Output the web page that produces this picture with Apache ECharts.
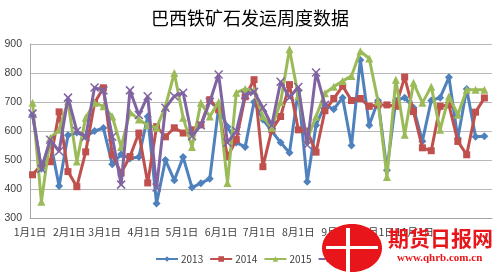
<!DOCTYPE html>
<html><head><meta charset="utf-8">
<script src="https://cdn.jsdelivr.net/npm/echarts@6/dist/echarts.min.js"></script>
<style>html,body{margin:0;padding:0;background:#fff}#c{width:500px;height:272px}</style>
</head><body><div id="c"></div>
<script>
const title = '巴西铁矿石发运周度数据';
const monthStarts = [0,31,59,90,120,151,181,212,243,273,304,334];
const monthLabels = ['1月1日','2月1日','3月1日','4月1日','5月1日','6月1日','7月1日','8月1日','9月1日','10月1日','11月1日','12月1日'];
const weekDays = [2,9,16,23,30,37,44,51,58,65,72,79,86,93,100,107,114,121,128,135,142,149,156,163,170,177,184,191,198,205,212,219,226,233,240,247,254,261,268,275,282,289,296,303,310,317,324,331,338,345,352,359];
const seriesNames = ['2013','2014','2015','2016'];
const v2013 = [655,470,565,410,585,595,580,600,610,485,520,505,510,650,350,500,430,510,405,420,435,680,615,560,545,700,640,600,560,525,740,425,620,690,675,715,550,845,620,705,465,705,715,680,565,705,715,785,575,745,580,582];
const v2014 = [449,484,494,666,460,408,528,697,749,518,455,512,593,421,615,580,611,593,604,621,708,673,511,570,718,777,477,604,650,760,604,600,527,670,712,755,705,712,685,690,690,685,786,667,542,532,685,690,564,518,665,714];
const v2015 = [697,356,576,604,702,495,646,697,685,650,545,665,640,620,611,685,800,646,545,697,650,700,421,732,745,740,650,611,700,882,720,570,650,730,753,772,790,875,850,702,441,777,587,766,697,753,604,719,656,742,742,742];
const v2016 = [660,470,570,530,715,600,580,750,740,580,415,740,655,720,405,680,720,732,582,620,700,795,560,600,725,735,680,620,770,715,752,552,802,690];
const colors = ['#4F81BD','#C0504D','#9BBB59','#8064A2'];
const symbols = ['diamond','rect','triangle','path://M0,0 L10,10 M10,0 L0,10'];
const allValues = [v2013, v2014, v2015, v2016];

const chart = echarts.init(document.getElementById('c'));
const series = allValues.map((vals, k) => ({
  name: seriesNames[k],
  type: 'line',
  data: vals.map((v, i) => [weekDays[i], v]),
  symbol: symbols[k],
  symbolSize: k === 1 ? 7 : 8,
  showSymbol: true,
  lineStyle: { width: 3, color: colors[k] },
  itemStyle: k === 3 ? { color: colors[k], borderColor: colors[k], borderWidth: 1.5 } : { color: colors[k], borderWidth: 0 },
  emphasis: { disabled: true },
  animation: false,
  z: 2 + k
}));

chart.setOption({
  animation: false,
  title: {
    text: title, left: 'center', top: 4,
    textStyle: { fontFamily: 'Noto Sans CJK SC', fontSize: 18, fontWeight: 'normal', color: '#000' }
  },
  grid: { left: 30, right: 8, top: 44, bottom: 54 },
  legend: {
    bottom: 3, left: 150,
    itemWidth: 22, itemHeight: 7, itemGap: 6,
    textStyle: { fontFamily: 'Noto Sans CJK SC', fontSize: 10, color: '#404040', padding: [0, 0, 0, -2] },
    data: seriesNames
  },
  xAxis: {
    type: 'value', min: 0, max: 365,
    axisLine: { show: true, lineStyle: { color: '#a6a6a6' } },
    axisTick: { show: false },
    splitLine: { show: false },
    axisLabel: {
      customValues: monthStarts,
      formatter: v => monthLabels[monthStarts.indexOf(v)] || '',
      fontFamily: 'Noto Sans CJK SC', fontSize: 10.5, color: '#404040', margin: 9
    }
  },
  yAxis: {
    type: 'value', min: 300, max: 900, interval: 100,
    axisLine: { show: true, lineStyle: { color: '#a6a6a6' } },
    axisTick: { show: false },
    splitLine: { lineStyle: { color: '#b8b8b8', width: 1 } },
    axisLabel: { fontFamily: 'Liberation Sans', fontSize: 10.5, color: '#404040', margin: 8 }
  },
  graphic: [
    { type: 'ellipse', shape: { cx: 352, cy: 248, rx: 30, ry: 24 }, style: { fill: '#e8161b' }, z: 100 },
    { type: 'rect', shape: { x: 346, y: 228, width: 4, height: 44 }, style: { fill: '#fff' }, z: 101 },
    { type: 'rect', shape: { x: 326, y: 246, width: 52, height: 3 }, style: { fill: '#fff' }, z: 101 },
    { type: 'text', left: 388, top: 228, style: { text: '期货日报网', fill: '#e8161b', font: 'bold 21px "Noto Sans CJK SC"' }, z: 100 },
    { type: 'text', left: 397, top: 253, style: { text: 'www.qhrb.com.cn', fill: '#e8161b', font: 'bold 11px "Liberation Serif"' }, z: 100 }
  ],
  series
});
</script></body></html>
